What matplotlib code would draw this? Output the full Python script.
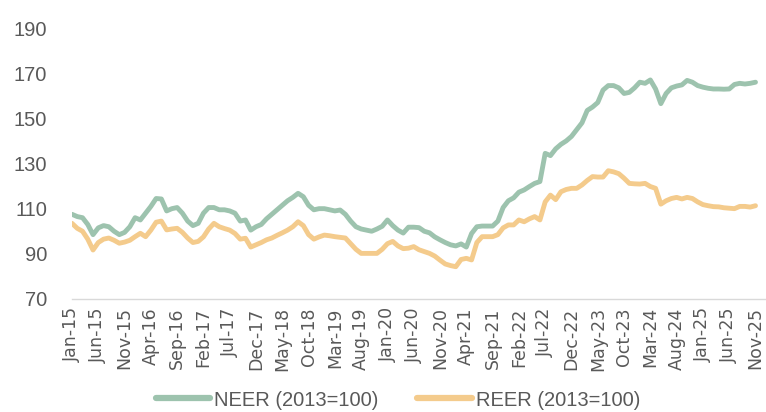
import numpy as np
import pandas as pd
import matplotlib
matplotlib.use("Agg")
import matplotlib.pyplot as plt

# monthly index values, Jan-15 .. Nov-25
months = pd.date_range("2015-01-01", periods=131, freq="MS")
tick_labels = [d.strftime("%b-%y") for d in months]

neer = [107.5, 106.5, 106, 103, 98.5, 101.5, 102.5, 102, 100, 98.5,
        99.5, 102, 106, 105, 108, 111, 114.5, 114.3, 109, 110,
        110.5, 108, 104.5, 102.5, 103.5, 108, 110.5, 110.5, 109.5, 109.5,
        109, 108, 104.5, 105, 100.5, 102, 103, 105.5, 107.5, 109.5,
        111.5, 113.5, 115, 116.8, 115.3, 111.5, 109.5, 110, 110, 109.5,
        109, 109.4, 107.5, 104.5, 102, 101, 100.5, 100, 101, 102.2,
        105, 102.5, 100.5, 99.2, 101.8, 101.8, 101.6, 100, 99.3, 97.5,
        96.2, 95, 94, 93.5, 94.4, 93, 99, 102, 102.3, 102.3,
        102.3, 104.5, 110.5, 113.5, 114.8, 117.3, 118.3, 119.8, 121.2, 122,
        134.5, 133.5, 136.5, 138.5, 140, 142, 145, 148, 153.5, 155,
        157, 162.5, 164.5, 164.5, 163.5, 161, 161.5, 163.5, 166, 165.5,
        167, 163, 156.5, 161, 163.5, 164.3, 164.8, 166.8, 166, 164.5,
        163.8, 163.3, 163, 163, 162.9, 163, 165, 165.5, 165.2, 165.5,
        166]

reer = [103.5, 101.3, 100, 96.5, 91.7, 95, 96.5, 97, 96, 94.7,
        95.2, 96, 97.6, 99.1, 97.6, 100.5, 104, 104.5, 100.6, 101,
        101.3, 99.5, 97, 95, 95.5, 97.5, 101, 103.5, 102, 101.2,
        100.5, 99, 96.5, 96.9, 93, 94, 95, 96.2, 97, 98.2,
        99.3, 100.5, 102, 104.2, 102.5, 98.5, 96.5, 97.5, 98.3, 98,
        97.6, 97.3, 97, 94.5, 92, 90.2, 90.2, 90.2, 90.2, 92,
        94.5, 95.5, 93.5, 92.3, 92.5, 93.2, 91.8, 91, 90.2, 89,
        87.2, 85.5, 84.8, 84.3, 87.5, 88, 87.3, 95, 97.6, 97.6,
        97.6, 98.5, 101.5, 102.8, 102.8, 105, 104.2, 105.5, 106.5, 105,
        113, 116, 114, 117.5, 118.5, 119, 119, 120.5, 122.5, 124.2,
        124, 124, 126.8, 126.3, 125.5, 123.5, 121.2, 121, 120.9, 121.2,
        119.8, 119, 112, 113.5, 114.5, 115, 114.3, 115, 114.5, 113,
        111.8, 111.3, 110.9, 110.8, 110.4, 110.2, 110, 111, 111, 110.7,
        111.3]

x = np.arange(len(months))

label_font = ['Liberation Sans', 'DejaVu Sans']

fig = plt.figure(figsize=(7.66, 4.12), dpi=100)
ax = fig.add_axes([72/766, 113/412, 694/766, 271/412])

ax.plot(x, neer, color="#9DC3AE", linewidth=3.5, solid_capstyle="round",
        solid_joinstyle="round", label="NEER (2013=100)")
ax.plot(x, reer, color="#F4CB8C", linewidth=3.5, solid_capstyle="round",
        solid_joinstyle="round", label="REER (2013=100)")

ax.set_xlim(0, 132)
ax.set_ylim(70, 190)
ax.set_yticks(np.arange(70, 191, 20))
ax.set_xticks(x[::5])
ax.set_xticklabels(tick_labels[::5], rotation=90, fontsize=12.5,
                   family='DejaVu Sans', color="#595959")
for t in ax.get_yticklabels():
    t.set_family(label_font)
    t.set_fontsize(14.5)
    t.set_color("#595959")
ax.tick_params(axis='both', length=0)
ax.tick_params(axis='y', pad=18)
ax.tick_params(axis='x', pad=6)

for s in ['top', 'right', 'left']:
    ax.spines[s].set_visible(False)
ax.spines['bottom'].set_color("#D9D9D9")
ax.spines['bottom'].set_linewidth(1.0)

leg = fig.legend(loc='center', bbox_to_anchor=(398/766, 12/412), ncol=2,
                 frameon=False, handlelength=2.7, handletextpad=0.2,
                 columnspacing=1.9, prop={'family': label_font, 'size': 14.5})
for t in leg.get_texts():
    t.set_color("#595959")
for l in leg.get_lines():
    l.set_linewidth(4.5)

fig.savefig("out.png", dpi=100)
